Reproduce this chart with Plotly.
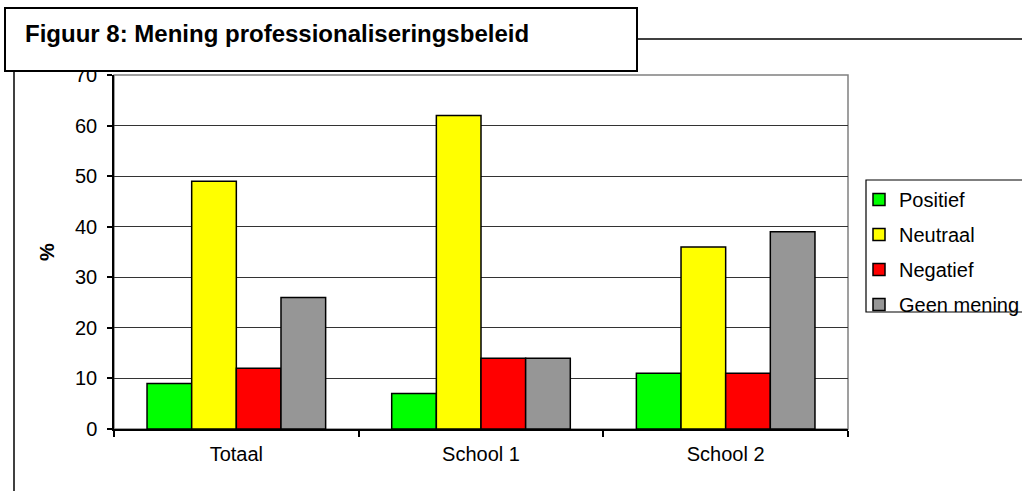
import plotly.graph_objects as go

categories = ["Totaal", "School 1", "School 2"]
series_names = ["Positief", "Neutraal", "Negatief", "Geen mening"]
positief = [9, 7, 11]
neutraal = [49, 62, 36]
negatief = [12, 14, 11]
geen_mening = [26, 14, 39]
colors = ["#00FF00", "#FFFF00", "#FF0000", "#969696"]
y_ticks = [0, 10, 20, 30, 40, 50, 60, 70]
title_text = "Figuur 8: Mening professionaliseringsbeleid"

FONT = "Liberation Sans, Arial, sans-serif"

W, H = 1022, 491
L, R, T, B = 114, 174, 75, 62
pw, ph = W - L - R, H - T - B


def px_x(x):
    return (x - L) / pw


def px_y(y):
    return (H - B - y) / ph


fig = go.Figure()
for name, vals, col in zip(series_names, [positief, neutraal, negatief, geen_mening], colors):
    fig.add_trace(go.Bar(
        x=categories, y=vals, name=name, legendgroup=name,
        marker=dict(color=col, line=dict(color="black", width=1.5)),
    ))

shapes = [
    # plot area border (gray top/right)
    dict(type="rect", xref="paper", yref="paper", x0=0, x1=1, y0=0, y1=1,
         line=dict(color="#808080", width=1.5), layer="below"),
    # title box
    dict(type="rect", xref="paper", yref="paper", x0=px_x(5), x1=px_x(637),
         y0=px_y(71), y1=px_y(8), line=dict(color="black", width=2),
         fillcolor="white", layer="above"),
    # line right of the title box
    dict(type="line", xref="paper", yref="paper", x0=px_x(637), x1=px_x(1030),
         y0=px_y(39), y1=px_y(39), line=dict(color="black", width=1.5)),
    # left vertical frame line
    dict(type="line", xref="paper", yref="paper", x0=px_x(14), x1=px_x(14),
         y0=px_y(71), y1=px_y(495), line=dict(color="black", width=1.5)),
    # legend border extending past right edge
    dict(type="rect", xref="paper", yref="paper", x0=px_x(866), x1=px_x(1040),
         y0=px_y(312), y1=px_y(180), line=dict(color="black", width=1.2)),
]

fig.update_layout(
    width=W, height=H,
    margin=dict(l=L, r=R, t=T, b=B, autoexpand=False),
    paper_bgcolor="white", plot_bgcolor="white",
    barmode="group", bargap=0.27, bargroupgap=0,
    font=dict(family=FONT, size=20, color="black"),
    showlegend=True,
    legend=dict(x=px_x(859), xanchor="left", y=px_y(180), yanchor="top",
                font=dict(family=FONT, size=20, color="black"),
                bgcolor="rgba(0,0,0,0)", borderwidth=0,
                traceorder="grouped", tracegroupgap=6),
    shapes=shapes,
    annotations=[dict(text="<b>" + title_text + "</b>", xref="paper", yref="paper",
                      x=px_x(23), y=px_y(33), xanchor="left", yanchor="middle",
                      showarrow=False, font=dict(family=FONT, size=24, color="black"))],
)

fig.update_xaxes(
    type="category", showline=True, linecolor="black", linewidth=1.5,
    ticks="outside", tickson="boundaries", ticklen=6, tickcolor="black", tickwidth=1.5,
    showgrid=False, tickfont=dict(family=FONT, size=20, color="black"),
    ticklabelstandoff=6,
)
fig.update_yaxes(
    range=[0, 70], tickvals=y_ticks, showline=True, linecolor="black", linewidth=1.5,
    ticks="outside", ticklen=5, tickcolor="black", tickwidth=1.5,
    showgrid=True, gridcolor="#333333", gridwidth=1, zeroline=False,
    tickfont=dict(family=FONT, size=20, color="black"), ticklabelstandoff=6,
    title=dict(text="<b>%</b>", font=dict(family=FONT, size=20, color="black"), standoff=15),
)

fig.write_html("out.html")
